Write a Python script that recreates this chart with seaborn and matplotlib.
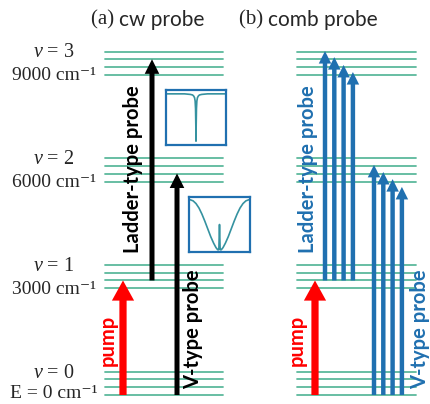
import matplotlib
matplotlib.use("Agg")
import numpy as np
import pandas as pd
import seaborn as sns
import matplotlib.pyplot as plt
from matplotlib.patches import FancyArrowPatch, ArrowStyle

# ---------------- data ----------------
level_energy = [0, 3000, 6000, 9000]            # cm-1, vibrational levels
sublevel_offset = [0, 220, 440, 650]             # cm-1, rotational sub-levels
level_names = [r"$v$ = 0", r"$v$ = 1", r"$v$ = 2", r"$v$ = 3"]
energy_labels = ["E = 0 cm\u207b\u00b9", "3000 cm\u207b\u00b9",
                 "6000 cm\u207b\u00b9", "9000 cm\u207b\u00b9"]
panel_titles = [("(a)", "cw probe"), ("(b)", "comb probe")]

# cw probe transitions (start, end) in cm-1
cw_pump = (0, 3220)
cw_ladder = (3220, 9440)
cw_vtype = (0, 6230)
# comb probe transitions
comb_pump = (0, 3220)
comb_ladder_start = 3220
comb_ladder_ends = [9670, 9500, 9280, 9080]
comb_v_start = 0
comb_v_ends = [6470, 6270, 6070, 5850]

# inset spectra (normalised)
narrow_x = [0, 0.30, 0.40, 0.44, 0.46, 0.475, 0.485, 0.492, 0.497, 0.5, 0.503, 0.508, 0.515, 0.525, 0.54, 0.56, 0.60, 0.70, 1.0]
narrow_y = [0.93, 0.93, 0.92, 0.91, 0.89, 0.86, 0.80, 0.66, 0.35, 0.07, 0.35, 0.66, 0.80, 0.86, 0.89, 0.91, 0.92, 0.93, 0.93]
broad_x = [0.0, 0.05, 0.1, 0.15, 0.2, 0.25, 0.3, 0.35, 0.4, 0.44, 0.47, 0.485, 0.49, 0.495, 0.5, 0.505, 0.51, 0.515,
           0.53, 0.56, 0.6, 0.65, 0.7, 0.75, 0.8, 0.85, 0.9, 0.95, 1.0]
broad_y = [0.95, 0.93, 0.88, 0.80, 0.69, 0.56, 0.42, 0.28, 0.16, 0.08, 0.04, 0.04, 0.08, 0.30, 0.50, 0.30, 0.08, 0.04,
           0.04, 0.08, 0.16, 0.28, 0.42, 0.56, 0.69, 0.80, 0.88, 0.93, 0.95]

# ---------------- style ----------------
sns.set_theme(style="white")
plt.rcParams["mathtext.fontset"] = "custom"
plt.rcParams["mathtext.rm"] = "Liberation Serif"
plt.rcParams["mathtext.it"] = "Liberation Serif:italic"
plt.rcParams["font.family"] = ["Lato", "DejaVu Sans"]

GREEN = "#5cb99c"
BLUE = "#2070b0"
RED = "#ff0000"
BLACK = "#000000"
CURVE = "#3592a0"
SERIF = ["Liberation Serif", "DejaVu Serif"]

W, H = 430, 404
fig = plt.figure(figsize=(W / 100, H / 100), dpi=100)
ax = fig.add_axes([0, 0, 1, 1])
PX = 3000 / 106.7       # cm-1 per pixel
BASE = 395              # pixel row of E = 0

# ---------------- level lines ----------------
panels_x = [(105, 223), (297, 416)]
rows = []
k = 0
for (x0, x1) in panels_x:
    for E in level_energy:
        for off in sublevel_offset:
            rows.append({"x": x0, "E": E + off, "id": k})
            rows.append({"x": x1, "E": E + off, "id": k})
            k += 1
df_lines = pd.DataFrame(rows)
sns.lineplot(data=df_lines, x="x", y="E", units="id", estimator=None, sort=False,
             color=GREEN, lw=1.3, ax=ax, legend=False)
ax.set_xlim(0, W)
ax.set_ylim((BASE - H) * PX, BASE * PX)
ax.axis("off")

# level labels
for i, (E, name, elab) in enumerate(zip(level_energy, level_names, energy_labels)):
    ax.text(54, E + 22 * PX, name, ha="center", va="center", fontsize=14.5,
            family=SERIF)
    if i == 0:
        ax.text(54, (BASE - H + 1.5) * PX, elab, ha="center", va="bottom", fontsize=14,
                family=SERIF)
    else:
        ax.text(54, E - 1 * PX, elab, ha="center", va="center", fontsize=14,
                family=SERIF)

# titles
for cx, (lab, txt) in zip([119, 268], panel_titles):
    ax.text(cx, (BASE - 20) * PX, lab + " ", ha="right", va="center", fontsize=15,
            family=SERIF)
    ax.text(cx, (BASE - 20) * PX, txt, ha="left", va="center", fontsize=15, family="Lato")


def arrow(x, y0, y1, color, tail, hw, hl, z=3):
    st = ArrowStyle.Simple(head_length=hl, head_width=hw, tail_width=tail)
    p = FancyArrowPatch((x, y0), (x, y1), arrowstyle=st, mutation_scale=1,
                        color=color, lw=0, shrinkA=0, shrinkB=0, zorder=z)
    ax.add_patch(p)


# cw panel
arrow(123, cw_pump[0], cw_pump[1], RED, 5.2, 16, 14.5)
arrow(152, cw_ladder[0], cw_ladder[1], BLACK, 3.6, 10.5, 10.5)
arrow(177, cw_vtype[0], cw_vtype[1], BLACK, 3.6, 10.5, 10.5)

# comb panel
arrow(315, comb_pump[0], comb_pump[1], RED, 5.2, 16, 14.5)
for i, e in enumerate(comb_ladder_ends):
    arrow(325 + 9.3 * i, comb_ladder_start, e, BLUE, 3.2, 9.0, 9.0, z=3 + i)
for i, e in enumerate(comb_v_ends):
    arrow(374 + 9.3 * i, comb_v_start, e, BLUE, 3.2, 9.0, 9.0, z=3 + i)

# rotated labels
FS = 14.5
ax.text(108, (BASE - 340) * PX, "pump", rotation=90, ha="center", va="center",
        color=RED, fontsize=FS, fontweight="bold")
ax.text(133, (BASE - 169) * PX, "Ladder-type probe", rotation=90, ha="center", va="center",
        color=BLACK, fontsize=FS, fontweight="bold")
ax.text(193, (BASE - 329) * PX, "V-type probe", rotation=90, ha="center", va="center",
        color=BLACK, fontsize=FS, fontweight="bold")
ax.text(297, (BASE - 340) * PX, "pump", rotation=90, ha="center", va="center",
        color=RED, fontsize=FS, fontweight="bold")
ax.text(308, (BASE - 169) * PX, "Ladder-type probe", rotation=90, ha="center", va="center",
        color=BLUE, fontsize=FS, fontweight="bold")
ax.text(420, (BASE - 329) * PX, "V-type probe", rotation=90, ha="center", va="center",
        color=BLUE, fontsize=FS, fontweight="bold")

# ---------------- insets ----------------
def inset(x0, y0, x1, y1, xs, ys):
    a = fig.add_axes([x0 / W, 1 - y1 / H, (x1 - x0) / W, (y1 - y0) / H])
    sns.lineplot(x=xs, y=ys, color=CURVE, lw=1.2, ax=a, sort=False)
    a.set_xlim(-0.02, 1.02)
    a.set_ylim(0, 1)
    a.set_xticks([])
    a.set_yticks([])
    a.set_xlabel("")
    a.set_ylabel("")
    a.set_facecolor("white")
    for s in a.spines.values():
        s.set_visible(True)
        s.set_color(BLUE)
        s.set_linewidth(1.6)
    return a


inset(166, 90, 226, 145, narrow_x, narrow_y)
inset(189, 197, 250, 252, broad_x, broad_y)

fig.savefig("out.png", dpi=100)
